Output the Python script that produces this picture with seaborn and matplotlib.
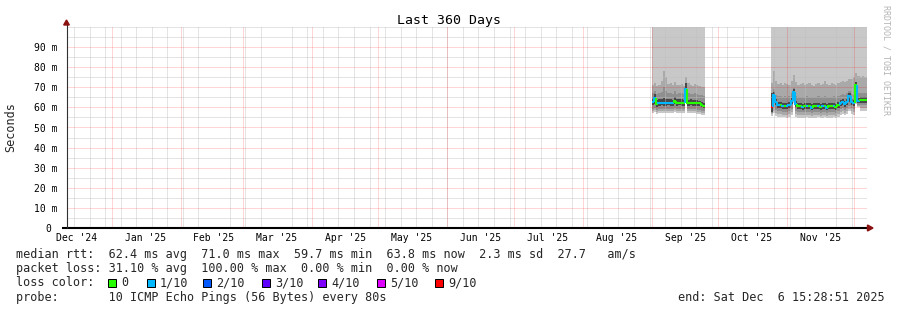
import numpy as np
import pandas as pd
import matplotlib
matplotlib.use("Agg")
import matplotlib.pyplot as plt
import matplotlib.dates as mdates
from matplotlib.patches import Polygon, Rectangle
from matplotlib.ticker import FuncFormatter, FixedLocator
import seaborn as sns

# ---------------- data (values in milliseconds) ----------------
title = "Last 360 Days"
y_label = "Seconds"
range_start = "2024-12-11 15:28:51"
range_end = "2025-12-06 15:28:51"

# segment 1: daily samples from 2025-09-01
seg1_first_day = "2025-09-01 00:00"
seg1_median = [62.5, 64.8, 61.6, 62.3, 62.4, 62.3, 62.3, 62.4, 62.3, 62.3, 63.0, 62.2,
               62.3, 62.2, 62.2, 69.0, 62.2, 62.3, 62.2, 62.2, 62.1, 62.0, 61.4, 60.8]
seg1_loss = [1, 1, 0, 1, 1, 1, 1, 1, 1, 1, 0, 0, 0, 0, 0, 1, 0, 0, 0, 0, 0, 0, 0, 0]
seg1_p9 = [71.0, 72.0, 70.5, 71.0, 73.0, 78.0, 75.0, 71.5, 72.0, 71.0, 72.5, 71.0,
           71.0, 71.5, 70.5, 75.0, 72.0, 71.0, 70.5, 71.5, 71.0, 70.5, 70.0, 70.0]
seg1_p8 = [67.0, 68.0, 66.5, 67.0, 67.5, 70.0, 68.0, 67.0, 67.0, 66.5, 68.0, 66.5,
           67.0, 67.0, 66.5, 72.0, 67.0, 66.5, 66.5, 67.0, 66.5, 66.0, 66.0, 65.5]
seg1_p7 = [64.0, 66.5, 63.5, 64.0, 64.0, 64.5, 64.0, 64.0, 64.0, 63.5, 65.0, 64.0,
           64.0, 64.0, 63.5, 72.0, 63.5, 64.0, 63.5, 63.5, 63.5, 63.0, 62.5, 62.0]
seg1_p4 = [61.0, 61.5, 60.0, 60.8, 61.0, 60.8, 60.8, 61.0, 60.8, 60.8, 61.5, 60.8,
           61.0, 60.8, 60.8, 63.0, 60.8, 61.0, 60.8, 60.8, 60.5, 60.5, 60.0, 59.5]
seg1_p3 = [59.0, 59.5, 58.5, 59.0, 59.0, 59.0, 59.0, 59.0, 59.0, 59.0, 59.5, 59.0,
           59.0, 59.0, 59.0, 62.5, 59.0, 59.0, 59.0, 59.0, 58.5, 58.5, 58.0, 58.0]
seg1_p2 = [58.0, 58.5, 57.5, 58.0, 58.0, 58.0, 58.0, 58.0, 58.0, 58.0, 58.5, 58.0,
           58.0, 58.0, 58.0, 62.0, 58.0, 58.0, 58.0, 58.0, 57.5, 57.5, 57.0, 57.0]
seg1_p1 = [57.0, 57.5, 56.5, 57.0, 57.0, 57.0, 57.0, 57.0, 57.0, 57.0, 57.5, 57.0,
           57.0, 57.0, 57.0, 62.0, 57.0, 57.0, 57.0, 57.0, 56.5, 56.5, 56.0, 56.0]

# segment 2: daily samples from 2025-10-24 12:00
seg2_first_day = "2025-10-24 12:00"
seg2_median = [60.0, 66.0, 62.5, 61.0, 61.0, 60.8, 60.8, 60.5, 61.0, 63.0, 67.5, 61.5,
               60.5, 60.5, 60.3, 60.5, 60.8, 60.5, 59.8, 60.5, 60.5, 60.8, 60.3, 60.5,
               60.8, 59.9, 60.5, 60.5, 60.8, 60.3, 61.0, 62.0, 62.5, 61.8, 62.5, 65.5,
               62.5, 62.0, 71.0, 63.0, 63.5, 63.5, 63.8, 63.8]
seg2_loss = [9, 1, 1, 1, 0, 1, 0, 1, 1, 1, 1, 1, 0, 0, 1, 0, 1, 0, 1, 0, 0, 1,
             0, 1, 0, 1, 0, 0, 1, 0, 0, 1, 1, 1, 1, 1, 1, 1, 0, 1, 0, 0, 0, 0]
seg2_p9 = [72.0, 78.0, 73.0, 71.5, 72.0, 71.0, 72.0, 71.5, 71.0, 73.0, 76.0, 72.5,
           71.0, 71.5, 72.0, 71.0, 71.5, 72.0, 71.0, 70.5, 71.5, 72.0, 71.0, 71.5,
           73.0, 71.5, 71.0, 72.0, 71.5, 71.0, 72.0, 72.5, 73.0, 72.5, 73.0, 74.0,
           74.0, 75.0, 77.0, 75.5, 75.0, 75.5, 75.0, 75.0]
seg2_p8 = [67.0, 69.0, 66.0, 65.5, 65.5, 65.0, 65.5, 65.0, 65.5, 67.0, 69.5, 65.5,
           65.0, 65.0, 65.0, 65.0, 65.5, 65.0, 65.0, 65.0, 65.0, 65.5, 65.0, 65.0,
           65.5, 65.0, 65.0, 65.0, 65.5, 65.0, 65.5, 66.0, 66.5, 66.0, 67.0, 68.0,
           66.5, 66.0, 72.5, 67.0, 67.0, 67.0, 67.0, 67.0]
seg2_p7 = [67.0, 67.5, 64.0, 62.5, 62.5, 62.3, 62.3, 62.0, 62.5, 64.5, 69.0, 63.0,
           62.0, 62.0, 61.8, 62.0, 62.3, 62.0, 61.5, 62.0, 62.0, 62.3, 61.8, 62.0,
           62.3, 61.5, 62.0, 62.0, 62.3, 61.8, 62.5, 63.5, 64.0, 63.3, 64.0, 67.0,
           64.0, 63.5, 72.5, 64.5, 65.0, 65.0, 65.3, 65.3]
seg2_p4 = [57.5, 62.0, 61.0, 59.5, 59.5, 59.3, 59.3, 59.0, 59.5, 61.5, 64.5, 60.0,
           59.0, 59.0, 58.8, 59.0, 59.3, 59.0, 58.5, 59.0, 59.0, 59.3, 58.8, 59.0,
           59.3, 58.5, 59.0, 59.0, 59.3, 58.8, 59.5, 60.5, 61.0, 60.3, 61.0, 62.5,
           61.0, 60.5, 66.0, 62.0, 62.0, 62.0, 62.3, 62.3]
seg2_p3 = [57.0, 60.0, 58.5, 58.0, 58.0, 57.8, 57.8, 57.5, 58.0, 59.0, 63.5, 58.0,
           57.5, 57.5, 57.5, 57.5, 57.8, 57.5, 57.3, 57.5, 57.5, 57.8, 57.3, 57.5,
           57.8, 57.3, 57.5, 57.5, 57.8, 57.3, 58.0, 59.0, 59.5, 58.8, 59.5, 60.5,
           59.5, 59.0, 64.0, 61.0, 61.0, 61.0, 61.0, 61.0]
seg2_p2 = [56.5, 58.0, 57.0, 56.5, 56.5, 56.3, 56.3, 56.0, 56.5, 57.5, 62.5, 56.5,
           56.0, 56.0, 56.0, 56.0, 56.3, 56.0, 55.8, 56.0, 56.0, 56.3, 55.8, 56.0,
           56.3, 55.8, 56.0, 56.0, 56.3, 55.8, 56.5, 57.5, 58.0, 57.3, 58.0, 59.0,
           58.0, 57.5, 62.0, 60.5, 59.5, 59.5, 59.5, 59.5]
seg2_p1 = [55.5, 57.0, 55.5, 55.0, 55.0, 55.0, 55.0, 54.8, 55.0, 56.0, 62.0, 55.0,
           54.8, 54.8, 54.5, 54.8, 55.0, 54.8, 54.5, 54.8, 54.8, 55.0, 54.5, 54.8,
           55.0, 54.5, 54.8, 54.8, 55.0, 54.5, 55.0, 56.0, 56.5, 56.0, 56.5, 58.0,
           56.5, 56.0, 61.5, 60.0, 58.0, 58.0, 58.0, 58.0]
smoke_ceiling = 105.0  # highest pings exceed the top of the chart

month_labels = ["Dec '24", "Jan '25", "Feb '25", "Mar '25", "Apr '25", "May '25",
                "Jun '25", "Jul '25", "Aug '25", "Sep '25", "Oct '25", "Nov '25"]
loss_levels = [0, 1, 2, 3, 4, 5, 9]
loss_level_labels = ["0", "1/10", "2/10", "3/10", "4/10", "5/10", "9/10"]
loss_palette = ["#26ff00", "#00b8ff", "#0059ff", "#5e00ff", "#7e00ff", "#dd00ff", "#ff0000"]

legend_rtt = "median rtt:  62.4 ms avg  71.0 ms max  59.7 ms min  63.8 ms now  2.3 ms sd  27.7   am/s"
legend_loss = "packet loss: 31.10 % avg  100.00 % max  0.00 % min  0.00 % now"
legend_color = "loss color:"
legend_probe = "probe:       10 ICMP Echo Pings (56 Bytes) every 80s"
legend_end = "end: Sat Dec  6 15:28:51 2025"
credit = "RRDTOOL / TOBI OETIKER"

# ---------------- style ----------------
sns.set_theme(style="white")
plt.rcParams['font.family'] = ['DejaVu Sans Mono', 'DejaVu Sans']
plt.rcParams['lines.scale_dashes'] = True

W, H = 897, 310
fig = plt.figure(figsize=(W / 100, H / 100), dpi=100)
fig.patch.set_facecolor("white")
ax = fig.add_axes([66.5 / W, (H - 228) / H, 800 / W, 201 / H])
ax.set_facecolor("white")
for s in ax.spines.values():
    s.set_visible(False)

color_of_loss = dict(zip(loss_levels, loss_palette))
band_colors = ["#c8c8c8", "#a9a9a9", "#8f8f8f", "#484848"]

segments = [
    (seg1_first_day, seg1_median, seg1_loss, [seg1_p1, seg1_p2, seg1_p3, seg1_p4],
     [None, seg1_p9, seg1_p8, seg1_p7]),
    (seg2_first_day, seg2_median, seg2_loss, [seg2_p1, seg2_p2, seg2_p3, seg2_p4],
     [None, seg2_p9, seg2_p8, seg2_p7]),
]

for first, med, loss, lows, highs in segments:
    days = pd.date_range(first, periods=len(med), freq="D")
    x = mdates.date2num(days)
    for k in range(4):
        lo = np.asarray(lows[k], float)
        hi = np.full(len(med), smoke_ceiling) if highs[k] is None else np.asarray(highs[k], float)
        ax.bar(x, hi - lo, bottom=lo, width=1.0, align="edge", color=band_colors[k],
               linewidth=0, antialiased=False, zorder=1)
    med = np.asarray(med, float)
    for i in range(len(med)):
        prev = med[i - 1] if i > 0 else med[i]
        ax.plot([x[i], x[i], x[i] + 1.0], [prev, med[i], med[i]],
                color=color_of_loss[loss[i]], lw=1.5, solid_capstyle="butt",
                solid_joinstyle="miter", zorder=4)

# ---------------- axes / grid ----------------
x0 = mdates.date2num(pd.Timestamp(range_start))
x1 = mdates.date2num(pd.Timestamp(range_end))
ax.set_xlim(x0, x1)
ax.set_ylim(0, 100)

month_starts = pd.date_range("2024-12-01", "2025-12-01", freq="MS")
label_pos = mdates.date2num(month_starts[:12] + pd.Timedelta(days=15))
ax.xaxis.set_major_locator(FixedLocator(label_pos))
ax.set_xticklabels(month_labels)
ax.xaxis.set_minor_locator(mdates.WeekdayLocator(byweekday=mdates.SU))

ax.set_yticks(np.arange(0, 100, 10))
ax.set_yticks(list(np.arange(5, 100, 10)) + [100], minor=True)
ax.yaxis.set_major_formatter(FuncFormatter(lambda v, p: "0 " if v == 0 else f"{v:.0f} m"))

ax.set_axisbelow(False)
dot = (0, (1, 1))
minor_style = dict(color="#c0c0c0", lw=0.72, ls=dot, alpha=0.85)
major_style = dict(color="#ff0000", lw=0.72, ls=dot, alpha=0.32)
ax.xaxis.grid(False, which="major")
ax.xaxis.grid(True, which="minor", **minor_style)
ax.yaxis.grid(True, which="minor", **minor_style)
ax.yaxis.grid(True, which="major", **major_style)
for m in mdates.date2num(month_starts):
    ax.axvline(m, zorder=2.6, **major_style)

ax.tick_params(axis="x", which="both", length=0, pad=3.6, labelsize=7, labelcolor="black")
ax.tick_params(axis="y", which="major", length=3, width=0.72, color="#909090",
               pad=3.2, labelsize=7, labelcolor="black")
ax.tick_params(axis="y", which="minor", length=0)

# axis lines with arrows
pw, ph = 800.0, 201.0
ax.plot([-4.5 / pw, 1 + 2.5 / pw], [0, 0], transform=ax.transAxes, color="black",
        lw=1.5, clip_on=False, zorder=6, solid_capstyle="butt")
ax.plot([0, 0], [0, 1 + 3 / ph], transform=ax.transAxes, color="#303030",
        lw=0.8, clip_on=False, zorder=6, solid_capstyle="butt")
ax.add_patch(Polygon([(1 + 1.0 / pw, 3 / ph), (1 + 1.0 / pw, -3 / ph), (1 + 6.5 / pw, 0)],
                     closed=True, transform=ax.transAxes, color="#8b1010", clip_on=False, zorder=7))
ax.add_patch(Polygon([(-2.8 / pw, 1 + 2 / ph), (2.8 / pw, 1 + 2 / ph), (0, 1 + 7 / ph)],
                     closed=True, transform=ax.transAxes, color="#8b1010", clip_on=False, zorder=7))

# ---------------- texts ----------------
def fx(px):
    return px / W


def fy(py):
    return 1 - py / H


fig.text(fx(448.5), fy(24), title, ha="center", va="baseline", fontsize=9.5, color="black")
fig.text(fx(11), fy(127), y_label, rotation=90, ha="center", va="center", fontsize=8.5)
fig.text(fx(886), fy(60), credit, rotation=270, ha="center", va="center",
         fontsize=6, color="#b4b4b4")

fs = 8.5
fig.text(fx(15.5), fy(258), legend_rtt, ha="left", va="baseline", fontsize=fs)
fig.text(fx(15.5), fy(272), legend_loss, ha="left", va="baseline", fontsize=fs)
fig.text(fx(15.5), fy(286), legend_color, ha="left", va="baseline", fontsize=fs)
fig.text(fx(15.5), fy(301), legend_probe, ha="left", va="baseline", fontsize=fs)
fig.text(fx(677.5), fy(301), legend_end, ha="left", va="baseline", fontsize=fs)

box_left = [108, 147, 203, 262, 318, 377, 435]
text_left = [121.5, 159.5, 216.5, 275.5, 331.5, 390.5, 448.5]
for bl, tl, c, lab in zip(box_left, text_left, loss_palette, loss_level_labels):
    fig.add_artist(Rectangle((fx(bl), fy(286.5)), 7.5 / W, 7.5 / H, transform=fig.transFigure,
                             facecolor=c, edgecolor="black", lw=0.72))
    fig.text(fx(tl), fy(286), lab, ha="left", va="baseline", fontsize=fs)

fig.savefig("out.png", dpi=100, facecolor="white")
